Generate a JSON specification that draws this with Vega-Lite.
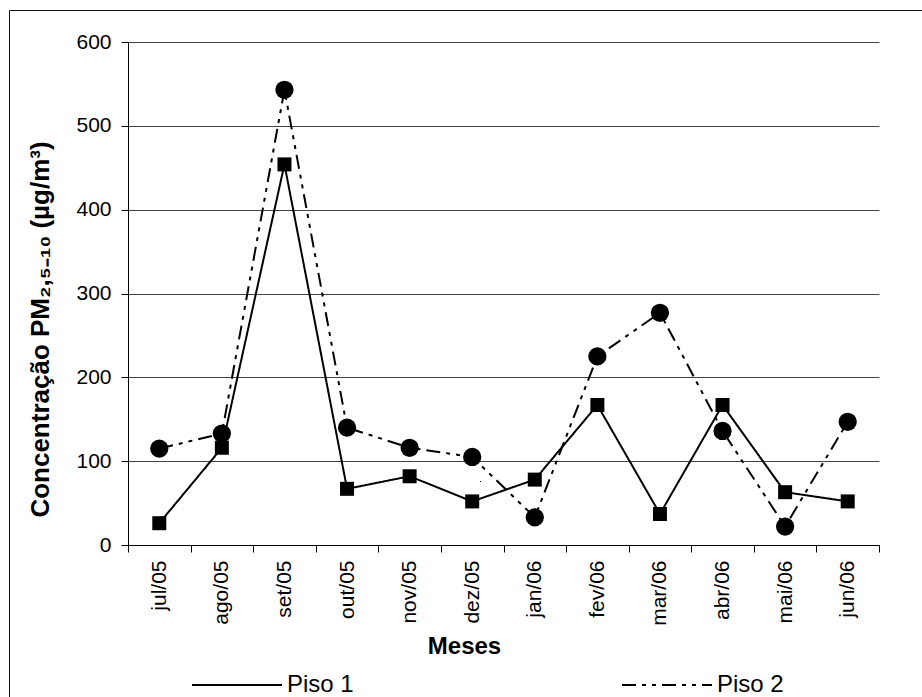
{
  "$schema": "https://vega.github.io/schema/vega-lite/v6.json",
  "width": 751,
  "height": 503,
  "autosize": {"type": "none"},
  "padding": {"left": 128, "top": 42, "right": 43, "bottom": 152},
  "background": "white",
  "config": {
    "font": "Liberation Sans",
    "view": {"stroke": null}
  },
  "data": {
    "values": [
      {"mes": "jul/05", "serie": "Piso 1", "valor": 26},
      {"mes": "ago/05", "serie": "Piso 1", "valor": 116},
      {"mes": "set/05", "serie": "Piso 1", "valor": 454},
      {"mes": "out/05", "serie": "Piso 1", "valor": 67},
      {"mes": "nov/05", "serie": "Piso 1", "valor": 82},
      {"mes": "dez/05", "serie": "Piso 1", "valor": 52},
      {"mes": "jan/06", "serie": "Piso 1", "valor": 78},
      {"mes": "fev/06", "serie": "Piso 1", "valor": 167},
      {"mes": "mar/06", "serie": "Piso 1", "valor": 37},
      {"mes": "abr/06", "serie": "Piso 1", "valor": 167},
      {"mes": "mai/06", "serie": "Piso 1", "valor": 63},
      {"mes": "jun/06", "serie": "Piso 1", "valor": 52},
      {"mes": "jul/05", "serie": "Piso 2", "valor": 115},
      {"mes": "ago/05", "serie": "Piso 2", "valor": 133},
      {"mes": "set/05", "serie": "Piso 2", "valor": 543},
      {"mes": "out/05", "serie": "Piso 2", "valor": 140},
      {"mes": "nov/05", "serie": "Piso 2", "valor": 116},
      {"mes": "dez/05", "serie": "Piso 2", "valor": 105},
      {"mes": "jan/06", "serie": "Piso 2", "valor": 33},
      {"mes": "fev/06", "serie": "Piso 2", "valor": 225},
      {"mes": "mar/06", "serie": "Piso 2", "valor": 277},
      {"mes": "abr/06", "serie": "Piso 2", "valor": 136},
      {"mes": "mai/06", "serie": "Piso 2", "valor": 22},
      {"mes": "jun/06", "serie": "Piso 2", "valor": 147}
    ]
  },
  "encoding": {
    "x": {
      "field": "mes",
      "type": "nominal",
      "sort": ["jul/05", "ago/05", "set/05", "out/05", "nov/05", "dez/05", "jan/06", "fev/06", "mar/06", "abr/06", "mai/06", "jun/06"],
      "scale": {"type": "band", "paddingInner": 0, "paddingOuter": 0},
      "axis": {
        "title": "Meses",
        "labelAngle": 270,
        "labelAlign": "right",
        "labelBaseline": "middle",
        "labelFontSize": 21,
        "labelPadding": 8,
        "labelColor": "black",
        "tickSize": 7,
        "tickBand": "extent",
        "tickColor": "black",
        "domainColor": "black",
        "grid": false,
        "titleFontSize": 24,
        "titleFontWeight": "bold",
        "titleColor": "black",
        "titleX": 336,
        "titleY": 108,
        "titleAlign": "center",
        "titleBaseline": "alphabetic"
      }
    },
    "y": {
      "field": "valor",
      "type": "quantitative",
      "scale": {"domain": [0, 600], "nice": false},
      "axis": {
        "values": [0, 100, 200, 300, 400, 500, 600],
        "title": "Concentração PM₂,₅₋₁₀ (µg/m³)",
        "grid": true,
        "gridColor": "#444444",
        "gridWidth": 1,
        "labelFontSize": 21,
        "labelPadding": 10,
        "labelColor": "black",
        "tickSize": 7,
        "tickColor": "black",
        "domainColor": "black",
        "titleAngle": 270,
        "titleFontSize": 26,
        "titleFontWeight": "bold",
        "titleColor": "black",
        "titleX": -80,
        "titleY": 287,
        "titleAlign": "center",
        "titleBaseline": "alphabetic"
      }
    }
  },
  "layer": [
    {
      "mark": {"type": "line", "strokeWidth": 2, "color": "black"},
      "encoding": {
        "strokeDash": {
          "field": "serie",
          "type": "nominal",
          "scale": {"domain": ["Piso 1", "Piso 2"], "range": [[1, 0], [14, 6, 4, 6, 4, 6]]},
          "legend": {
            "orient": "none",
            "legendX": 63,
            "legendY": 597,
            "direction": "horizontal",
            "title": null,
            "symbolSize": 8100,
            "symbolStrokeWidth": 2,
            "symbolStrokeColor": "black",
            "labelFontSize": 24,
            "labelOffset": 4,
            "labelColor": "black",
            "columnPadding": 264,
            "padding": 0
          }
        }
      }
    },
    {
      "transform": [{"filter": "datum.serie === 'Piso 1'"}],
      "mark": {"type": "point", "filled": true, "color": "black", "shape": "square", "size": 196},
      "encoding": {
        "opacity": {
          "field": "serie",
          "type": "nominal",
          "scale": {"type": "ordinal", "range": [1, 1]},
          "legend": {
            "orient": "none",
            "legendX": -119,
            "legendY": -32,
            "title": null,
            "padding": 470,
            "strokeColor": "#111111",
            "symbolOpacity": 0,
            "labelOpacity": 0,
            "labelFontSize": 1,
            "symbolSize": 1
          }
        }
      }
    },
    {
      "transform": [{"filter": "datum.serie === 'Piso 2'"}],
      "mark": {"type": "point", "filled": true, "color": "black", "opacity": 1, "shape": "circle", "size": 333}
    }
  ]
}
